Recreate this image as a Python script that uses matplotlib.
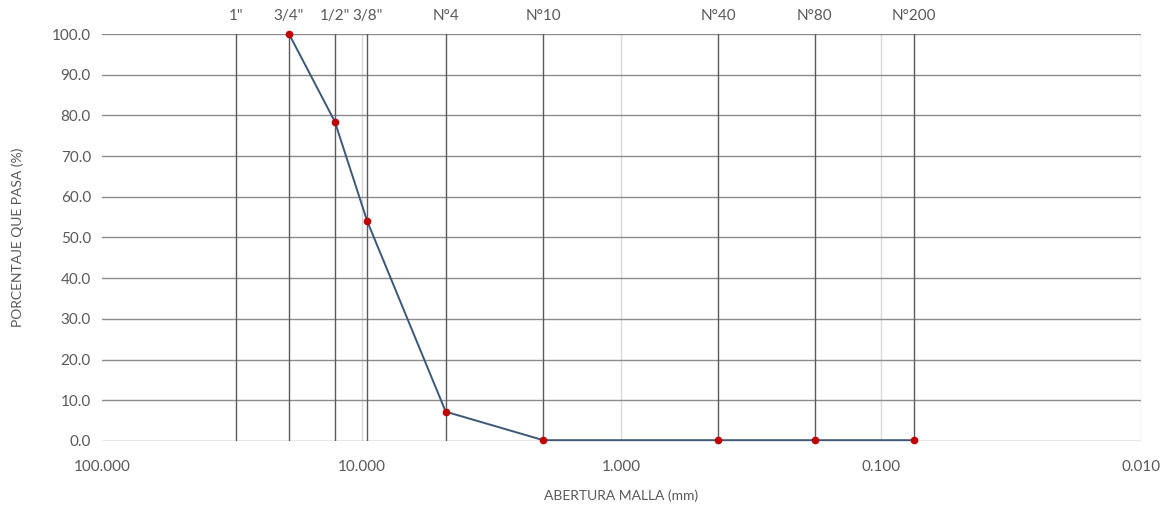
import matplotlib

matplotlib.use("Agg")
import matplotlib.pyplot as plt
from matplotlib.ticker import FixedLocator, FuncFormatter, NullLocator

# Sieve series: opening (mm) and percent passing.
sieve_names = ['1"', '3/4"', '1/2"', '3/8"', "N°4", "N°10", "N°40", "N°80", "N°200"]
sieve_mm = [30.5, 19.05, 12.7, 9.525, 4.75, 2.0, 0.425, 0.18, 0.075]

curve_mm = [19.05, 12.7, 9.525, 4.75, 2.0, 0.425, 0.18, 0.075]
curve_pass = [100.0, 78.5, 54.0, 7.2, 0.2, 0.2, 0.2, 0.2]

x_ticks = [100, 10, 1, 0.1, 0.01]
y_ticks = [0, 10, 20, 30, 40, 50, 60, 70, 80, 90, 100]

plt.rcParams["font.family"] = ["Lato", "DejaVu Sans"]

TEXT = "#595959"
HGRID = "#8c8c8c"
SIEVE = "#5a5a5a"
DECADE = "#d9d9d9"
LINE = "#3b5878"
MARK = "#c00000"

fig = plt.figure(figsize=(11.67, 5.09), dpi=100)
ax = fig.add_axes([0.0874, 0.1336, 0.8903, 0.7996])

ax.set_xscale("log")
ax.set_xlim(100, 0.01)
ax.set_ylim(0, 100)

for s in ax.spines.values():
    s.set_visible(False)

# light decade lines and horizontal grid
for d in x_ticks[1:]:
    ax.axvline(d, color=DECADE, lw=1.0, zorder=1)
for yv in y_ticks:
    ax.axhline(yv, color=HGRID, lw=1.0, zorder=1)

# sieve opening lines with names on top
for name, mm in zip(sieve_names, sieve_mm):
    ax.axvline(mm, color=SIEVE, lw=1.0, zorder=2)
    ax.text(mm, 102.8, name, ha="center", va="bottom", fontsize=11,
            color=TEXT)

ax.plot(curve_mm, curve_pass, color=LINE, lw=1.4, zorder=3, clip_on=False)
ax.plot(curve_mm, curve_pass, ls="none", marker="o", ms=4.5,
        color=MARK, zorder=4, clip_on=False)

ax.xaxis.set_major_locator(FixedLocator(x_ticks))
ax.xaxis.set_minor_locator(NullLocator())
ax.xaxis.set_major_formatter(FuncFormatter(lambda v, p: f"{v:.3f}"))
ax.yaxis.set_major_locator(FixedLocator(y_ticks))
ax.yaxis.set_major_formatter(FuncFormatter(lambda v, p: f"{v:.1f}"))
ax.tick_params(axis="both", length=0, labelsize=11, colors=TEXT)
ax.tick_params(axis="x", pad=14)
ax.tick_params(axis="y", pad=8)

ax.set_xlabel("ABERTURA MALLA (mm)", fontsize=10, color=TEXT, labelpad=11)
ax.set_ylabel("PORCENTAJE QUE PASA (%)", fontsize=10, color=TEXT, labelpad=20)

fig.savefig("out.png", dpi=100, facecolor="white")
